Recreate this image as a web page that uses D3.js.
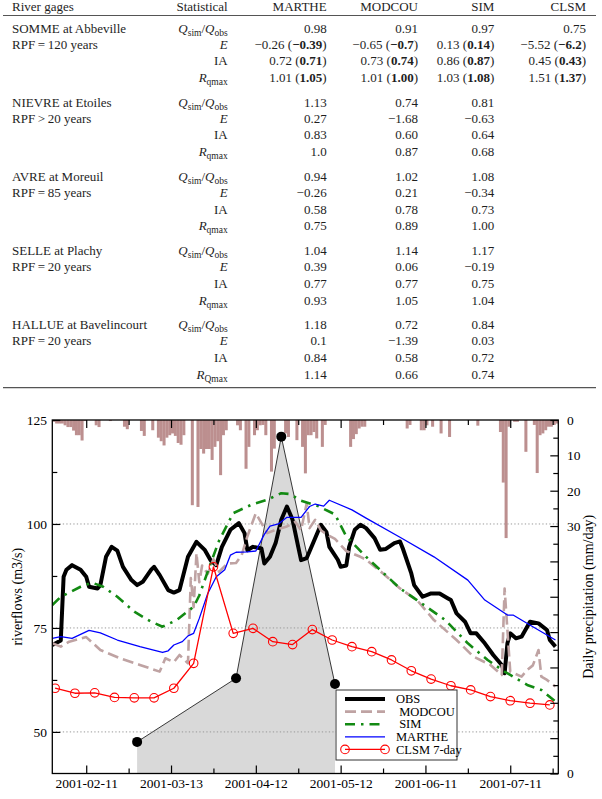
<!DOCTYPE html>
<html><head><meta charset="utf-8">
<script src="https://cdn.jsdelivr.net/npm/d3@7"></script>
<style>
body{margin:0;background:#fff;}
svg{display:block;font-family:"Liberation Serif","Times New Roman",serif;}
</style></head><body>
<svg id="c" width="602" height="799"></svg>
<script>
// ---------------- TABLE DATA ----------------
const tableColumns = ["MARTHE","MODCOU","SIM","CLSM"];
const gages = ["SOMME at Abbeville","NIEVRE at Etoiles","AVRE at Moreuil","SELLE at Plachy","HALLUE at Bavelincourt"];
const rpf = ["RPF\u2009=\u2009120 years","RPF\u2009>\u200920 years","RPF\u2009=\u200985 years","RPF\u2009=\u200920 years","RPF\u2009=\u200920 years"];
const rSub = ["qmax","qmax","qmax","qmax","Qmax"];
const martheTab = [
  ["0.98","\u22120.26 (\u22120.39)","0.72 (0.71)","1.01 (1.05)"],
  ["1.13","0.27","0.83","1.0"],
  ["0.94","\u22120.26","0.58","0.75"],
  ["1.04","0.39","0.77","0.93"],
  ["1.18","0.1","0.84","1.14"]];
const modcouTab = [
  ["0.91","\u22120.65 (\u22120.7)","0.73 (0.74)","1.01 (1.00)"],
  ["0.74","\u22121.68","0.60","0.87"],
  ["1.02","0.21","0.78","0.89"],
  ["1.14","0.06","0.77","1.05"],
  ["0.72","\u22121.39","0.58","0.66"]];
const simTab = [
  ["0.97","0.13 (0.14)","0.86 (0.87)","1.03 (1.08)"],
  ["0.81","\u22120.63","0.64","0.68"],
  ["1.08","\u22120.34","0.73","1.00"],
  ["1.17","\u22120.19","0.75","1.04"],
  ["0.84","0.03","0.72","0.74"]];
const clsmTab = [
  ["0.75","\u22125.52 (\u22126.2)","0.45 (0.43)","1.51 (1.37)"],
  [], [], [], []];

// ---------------- CHART DATA ----------------
// days counted from 2001-01-30
const xTickLabels = ["2001-02-11","2001-03-13","2001-04-12","2001-05-12","2001-06-11","2001-07-11"];
const xMinorTicks = ["2001-02-26","2001-03-28","2001-04-27","2001-05-27","2001-06-26","2001-07-26"];
const leftMajor = [50,75,100,125];
const leftMinor = [62.5,87.5,112.5];
const gridValues = [50,75,100];
const rightLabels = [[0,"0"],[10,"10"],[20,"20"],[30,"30"],[100,"0"]];

const precip = [
 0.5,1,1,1,1.5,2,2,3,4.3,4.3,
 5.8,0.3,0,0,0,1.5,2,0,0,0,
 0.3,0,0,0,0,1.9,2.6,0,0,0,
 0,3.1,4.5,0,0,2.9,0,5,6,7.2,
 5,4.3,3.8,4.5,6.5,7,4.3,0,0,24.1,
 0,24.6,8.2,9.5,8.2,8.2,11.3,7.6,6,15.6,
 4.3,2.9,0,0,0,1.5,2.9,0,13.8,7.6,
 0,4.3,2.9,1.5,1.4,4.3,0,14.6,8.1,0,
 0,0,3.8,4.8,0,0,5.7,0,7.6,15.1,
 4.3,4.3,3.4,5.2,0,7.6,1.4,0,0,0,
 0,0,0,0,0,7.6,5.4,4,2.4,1.9,
 1.9,0,0,0,0,0,0,0,0,0,
 0,0,0,0,0,2.4,1.4,0,0,0,
 2.9,2.9,1.5,0,1.9,0,0,3.8,0,0,
 4.8,0,0,0,0,0,0,0,0,0,
 1.6,0,0,0,0,0,0,0,3.4,17.7,
 33.4,1.9,0,0.5,0.5,0,0,9,0,0,
 1.4,15,4.3,3.8,2.9,1.9,1.9,1.4,1];

const obsDays = [0,3,4,5,7,10,12,13,16,17,19,21,23,25,28,30,32,35,36,38,41,43,45,48,51,54,56,58,60,63,66,68,69,71,74,75,77,79,81,83,85,87,88,90,92,95,97,98,101,102,104,105,107,109,111,114,116,118,121,123,124,127,128,131,134,137,140,141,143,146,148,150,153,156,159,160,161,162,164,166,167,169,172,175,176,178];
const obsVals = [70.9,72,87.3,89,90.1,89,87.3,84.9,84.5,85.3,92.1,94.5,93.6,89.7,86.5,85.3,86.1,89,89.7,87.7,84.1,83.5,84.1,92.1,95.7,93.7,91.3,90.1,94.5,98.6,100.2,97.8,93.7,94.5,94.1,90.5,92.1,95.4,101,104.2,101,94.5,91.3,91.8,95,99.8,98,94.5,91.4,89.7,90,94.5,98.6,99.8,99,96.6,93.8,94,95.4,95.8,94.1,88.1,85.3,82.5,83.3,83.3,82.1,81.7,78.5,76.5,73.7,73.7,71.3,68.5,66.1,64.1,71.3,73.7,72.5,72.9,74.1,76.5,76.1,74.5,72.1,70.5];

const modcouDays = [0,3,6,12,17,24,31,38,40,43,45,48,49,50,51,52,53,55,57,59,62,65,67,69,72,76,79,83,86,88,90,91,93,95,97,100,104,109,111,117,123,129,135,143,149,155,159,160,162,166,168,170,172,173,175,178];
const modcouVals = [71.3,70.5,71.7,72.8,69.7,67.7,66.1,64.5,67.7,66.8,68.5,66.5,87,80,93,86,90,88,91.5,88.5,90.5,90.6,92.5,97,102.6,97.8,98.6,99.4,100.5,98.5,105,99,101,98.5,97.5,96.4,93.5,92.1,91.4,88.1,84.5,81.7,76.9,72.1,68.1,66.1,63.7,84.5,64.5,63.3,64.9,66,69.7,63.3,62.5,60.9];

const simDays = [0,3,6,10,14,18,23,29,35,39,44,50,52,56,59,64,71,76,81,84,88,94,100,104,111,123,129,139,147,154,160,168,173,178];
const simVals = [80.5,82.5,83.5,84.9,85.9,84.9,82.5,78.9,76.5,75.3,76.9,80.1,82.8,90.5,96,102.6,104.8,105.8,107.4,107.2,105.6,104.3,102.3,97,92.1,84.5,81.7,76.9,71.3,67.3,64.5,61.3,60.1,57.3];

const martheDays = [0,3,7,13,17,23,31,39,41,43,46,48,50,52,55,58,61,63,65,69,72,75,77,80,83,88,91,93,96,98,106,111,123,135,147,153,161,163,170,178];
const martheVals = [72.5,72.9,72.5,74.4,73.8,72.1,70.5,69.1,69.5,70.9,71.7,73.1,73.7,77.3,83.3,87.3,89,92.5,93.2,93.3,93.5,97.5,99.5,100,101.6,101.6,104.2,104.8,104.3,105.7,103.4,101.4,96.8,92.1,86.5,81.7,78.1,78.1,75.3,72.1];

const clsmDays = [1,8,15,22,29,36,43,50,57,64,71,78,85,92,99,106,113,120,127,134,141,148,155,162,169,176];
const clsmVals = [60.5,59.3,59.4,58.3,58.2,58.2,60.5,66.5,89.7,73.7,74.9,71.7,71,74.6,72.1,70.5,69.3,67.3,64.7,62.7,61.1,60.1,58.5,57.5,56.9,56.5];

const greyDays = [30,65,81,100];
const greyVals = [47.6,62.9,121,61.5];

const legendLabels = ["OBS"," MODCOU"," SIM","MARTHE","CLSM 7-day"];

// ---------------- DRAW ----------------
const svg = d3.select("#c");
const ink = "#1e1e1e";

// ---- table
const T = svg.append("g").attr("fill",ink).attr("font-size",13);
const statRight = 227.7;
const colRight = [326.7, 418, 494.3, 586];
const headY = 10.5, blockY0 = 32.6, blockStep = 74.2, rowOff = [0,16,32.6,49.3];
T.append("text").attr("x",12).attr("y",headY).text("River gages");
T.append("text").attr("x",statRight).attr("y",headY).attr("text-anchor","end").text("Statistical");
tableColumns.forEach((c,i)=>T.append("text").attr("x",colRight[i]).attr("y",headY).attr("text-anchor","end").text(c));
T.append("line").attr("x1",3).attr("x2",596).attr("y1",15.5).attr("y2",15.5).attr("stroke","#555").attr("stroke-width",1.2);
T.append("line").attr("x1",3).attr("x2",596).attr("y1",387.7).attr("y2",387.7).attr("stroke","#555").attr("stroke-width",1.2);

function addSub(t, main, sub, italic){
  t.append("tspan").attr("font-style",italic?"italic":null).text(main);
  t.append("tspan").attr("font-size",9.5).attr("dy",3).text(sub);
}
const allCols = [martheTab, modcouTab, simTab, clsmTab];
gages.forEach((g,k)=>{
  const b = blockY0 + k*blockStep;
  T.append("text").attr("x",12).attr("y",b).text(g);
  T.append("text").attr("x",12).attr("y",b+rowOff[1]).text(rpf[k]);
  rowOff.forEach((o,r)=>{
    const t = T.append("text").attr("x",statRight).attr("y",b+o).attr("text-anchor","end");
    if(r===0){ addSub(t,"Q","sim",true); t.append("tspan").attr("dy",-3).text("/"); addSub(t,"Q","obs",true); }
    else if(r===1){ t.append("tspan").attr("font-style","italic").text("E"); }
    else if(r===2){ t.text("IA"); }
    else { addSub(t,"R",rSub[k],true); }
  });
  allCols.forEach((col,ci)=>{
    (col[k]||[]).forEach((s,r)=>{
      const t = T.append("text").attr("x",colRight[ci]).attr("y",b+rowOff[r]).attr("text-anchor","end");
      const m = s.match(/^(.*?) \((.*)\)$/);
      if(m){ t.append("tspan").text(m[1]+" ("); t.append("tspan").attr("font-weight","bold").text(m[2]); t.append("tspan").text(")"); }
      else t.text(s);
    });
  });
});

// ---- chart
const t0 = new Date(2001,0,30), t1 = new Date(2001,6,28);
const day = d => d3.timeDay.offset(t0, d);
const X0=52.3, X1=558.3, Y0=420, Y1=773.5;
const x = d3.scaleTime().domain([t0,t1]).range([X0,X1]);
const y = d3.scaleLinear().domain([40,125]).range([Y1,Y0]);
const yP = d3.scaleLinear().domain([0,100]).range([Y0,Y1]);
const parse = d3.timeParse("%Y-%m-%d");

svg.append("defs").append("clipPath").attr("id","clip").append("rect")
  .attr("x",X0).attr("y",Y0).attr("width",X1-X0).attr("height",Y1-Y0);
const P = svg.append("g").attr("clip-path","url(#clip)");

// grey polygon
const gpts = greyDays.map((d,i)=>[x(day(d)), y(greyVals[i])]);
const poly = [[gpts[0][0], y(y.domain()[0])], ...gpts, [gpts[gpts.length-1][0], y(y.domain()[0])]];
P.append("path").attr("d", d3.line()(poly)).attr("fill","#d9d9d9").attr("stroke","none");
P.append("path").attr("d", d3.line()(gpts)).attr("fill","none").attr("stroke","#222").attr("stroke-width",0.9);

// grid
P.selectAll("line.grid").data(gridValues).join("line").attr("class","grid")
  .attr("x1",X0).attr("x2",X1).attr("y1",d=>y(d)).attr("y2",d=>y(d))
  .attr("stroke","#999").attr("stroke-width",1).attr("stroke-dasharray","1.3,2.2");

// precipitation bars
P.selectAll("rect.pr").data(precip.map((v,i)=>[i,v]).filter(d=>d[1]>0)).join("rect").attr("class","pr")
  .attr("x",d=>x(day(d[0]))).attr("y",Y0)
  .attr("width",d=>x(day(d[0]+1))-x(day(d[0]))+0.2)
  .attr("height",d=>yP(d[1])-Y0).attr("fill","#bc8f8f");

const line = d3.line().x(d=>x(day(d[0]))).y(d=>y(d[1]));
const zip = (a,b)=>a.map((d,i)=>[d,b[i]]);
const styles = {
  obs:{stroke:"#000",w:4,dash:null},
  modcou:{stroke:"#bfa3a3",w:2.6,dash:"11,5"},
  sim:{stroke:"#138a13",w:2.6,dash:"10,6,2.5,6"},
  marthe:{stroke:"#0000ff",w:1.3,dash:null},
  clsm:{stroke:"#ff0000",w:1.3,dash:null}
};
function drawLine(data, s){
  P.append("path").attr("d",line(data)).attr("fill","none").attr("stroke",s.stroke)
   .attr("stroke-width",s.w).attr("stroke-dasharray",s.dash).attr("stroke-linejoin","round");
}
drawLine(zip(obsDays,obsVals), styles.obs);
drawLine(zip(modcouDays,modcouVals), styles.modcou);
drawLine(zip(simDays,simVals), styles.sim);
drawLine(zip(martheDays,martheVals), styles.marthe);
const clsmData = zip(clsmDays,clsmVals);
drawLine(clsmData, styles.clsm);
P.selectAll("circle.cl").data(clsmData).join("circle").attr("class","cl")
  .attr("cx",d=>x(day(d[0]))).attr("cy",d=>y(d[1])).attr("r",4.3)
  .attr("fill","none").attr("stroke","#ff0000").attr("stroke-width",1.1);

// grey series dots
svg.selectAll("circle.gd").data(zip(greyDays,greyVals)).join("circle").attr("class","gd")
  .attr("cx",d=>x(day(d[0]))).attr("cy",d=>y(d[1])).attr("r",5).attr("fill","#000");

// frame
svg.append("rect").attr("x",X0).attr("y",Y0).attr("width",X1-X0).attr("height",Y1-Y0)
  .attr("fill","none").attr("stroke","#000").attr("stroke-width",1.3);

// axes
function styleAxis(g){
  g.attr("font-family","Liberation Serif").attr("font-size",13.5);
  g.select(".domain").remove();
  g.selectAll(".tick line").attr("stroke","#000").attr("stroke-width",1.2);
  g.selectAll(".tick text").attr("fill","#000");
}
const majorDates = xTickLabels.map(parse), minorDates = xMinorTicks.map(parse);
svg.append("g").attr("transform",`translate(0,${Y1})`)
  .call(d3.axisBottom(x).tickValues(majorDates).tickSize(-8).tickPadding(5).tickFormat(d3.timeFormat("%Y-%m-%d"))).call(styleAxis);
svg.append("g").attr("transform",`translate(0,${Y1})`)
  .call(d3.axisBottom(x).tickValues(minorDates.filter(d=>d<=t1)).tickSize(-5).tickFormat("")).call(styleAxis);
svg.append("g").attr("transform",`translate(0,${Y0})`)
  .call(d3.axisTop(x).tickValues(majorDates).tickSize(-8).tickFormat("")).call(styleAxis);
svg.append("g").attr("transform",`translate(0,${Y0})`)
  .call(d3.axisTop(x).tickValues(minorDates.filter(d=>d<=t1)).tickSize(-5).tickFormat("")).call(styleAxis);
svg.append("g").attr("transform",`translate(${X0},0)`)
  .call(d3.axisLeft(y).tickValues(leftMajor).tickSize(-8).tickPadding(5.3).tickFormat(d3.format("d"))).call(styleAxis);
svg.append("g").attr("transform",`translate(${X0},0)`)
  .call(d3.axisLeft(y).tickValues(leftMinor).tickSize(-5).tickFormat("")).call(styleAxis);
const rl = new Map(rightLabels);
const rAx = svg.append("g").attr("transform",`translate(${X1},0)`)
  .call(d3.axisRight(yP).tickValues(d3.range(0,101,5)).tickSize(-5).tickPadding(8.7).tickFormat(v=>rl.has(v)?rl.get(v):"")).call(styleAxis);
rAx.selectAll(".tick line").attr("x2",v=>v%10===0?-8:-5);

// axis titles
svg.append("text").attr("transform",`translate(21.5,${(Y0+Y1)/2}) rotate(-90)`).attr("text-anchor","middle")
  .attr("font-size",14).attr("fill","#000").text("riverflows (m3/s)");
svg.append("text").attr("transform",`translate(592.5,${(Y0+Y1)/2}) rotate(-90)`).attr("text-anchor","middle")
  .attr("font-size",14).attr("fill","#000").text("Daily precipitation (mm/day)");

// legend
const L = svg.append("g");
L.append("rect").attr("x",336).attr("y",690).attr("width",121).attr("height",70)
  .attr("fill","#fff").attr("stroke","#333").attr("stroke-width",1);
const legStyles = [styles.obs, styles.modcou, styles.sim, styles.marthe, styles.clsm];
legendLabels.forEach((lab,i)=>{
  const yy = 699 + i*12.6;
  const s = legStyles[i];
  L.append("line").attr("x1",345).attr("x2",385).attr("y1",yy).attr("y2",yy)
    .attr("stroke",s.stroke).attr("stroke-width",s.w).attr("stroke-dasharray",s.dash);
  if(i===4){
    [345,385].forEach(cx=>L.append("circle").attr("cx",cx).attr("cy",yy).attr("r",4.3)
      .attr("fill","none").attr("stroke","#ff0000").attr("stroke-width",1.1));
  }
  L.append("text").attr("x",396).attr("y",yy+4.2).attr("font-size",12.5).attr("fill","#000")
    .style("white-space","pre").text(lab);
});
</script>
</body></html>
